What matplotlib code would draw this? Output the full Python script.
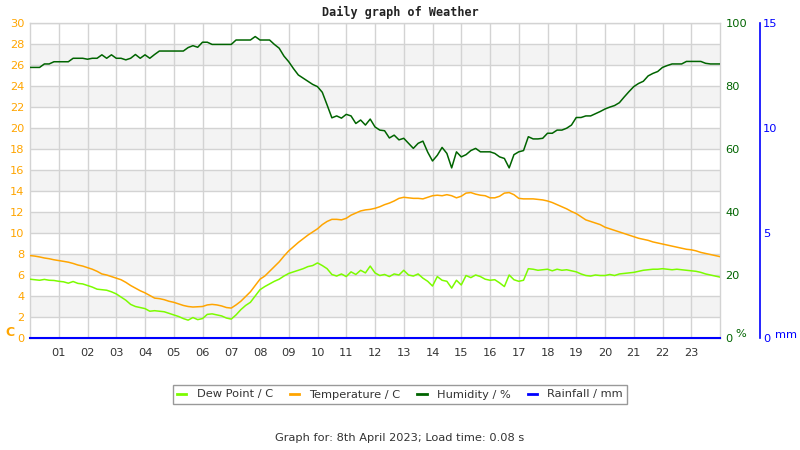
import matplotlib
matplotlib.use("Agg")
import matplotlib.pyplot as plt
from matplotlib.lines import Line2D
import numpy as np

# readings every 10 minutes, 00:00 .. 24:00
STEP_MINUTES = 10

TEMPERATURE = [
    7.85, 7.80, 7.72, 7.62, 7.55, 7.45, 7.38, 7.30, 7.22, 7.10, 6.95, 6.85,
    6.70, 6.55, 6.35, 6.10, 6.00, 5.85, 5.70, 5.55, 5.30, 5.00, 4.75, 4.50,
    4.30, 4.05, 3.80, 3.75, 3.65, 3.50, 3.40, 3.25, 3.10, 3.00, 2.95, 2.97,
    3.00, 3.15, 3.20, 3.15, 3.05, 2.90, 2.85, 3.15, 3.50, 3.95, 4.40, 5.00,
    5.60, 5.90, 6.35, 6.80, 7.25, 7.80, 8.30, 8.70, 9.10, 9.45, 9.80, 10.10,
    10.40, 10.80, 11.10, 11.30, 11.30, 11.25, 11.40, 11.70, 11.90, 12.10, 12.20, 12.25,
    12.35, 12.50, 12.70, 12.85, 13.05, 13.30, 13.40, 13.35, 13.30, 13.30, 13.25, 13.40,
    13.55, 13.60, 13.55, 13.65, 13.55, 13.35, 13.50, 13.80, 13.85, 13.70, 13.60, 13.55,
    13.35, 13.35, 13.50, 13.80, 13.85, 13.65, 13.30, 13.25, 13.25, 13.25, 13.20, 13.15,
    13.05, 12.90, 12.70, 12.50, 12.30, 12.05, 11.85, 11.55, 11.25, 11.10, 10.95, 10.80,
    10.55, 10.40, 10.25, 10.10, 9.95, 9.80, 9.65, 9.50, 9.40, 9.30, 9.15, 9.05,
    8.95, 8.85, 8.75, 8.65, 8.55, 8.45, 8.40, 8.30, 8.15, 8.05, 7.95, 7.85,
    7.75,
]

DEW_POINT = [
    5.60, 5.55, 5.50, 5.58, 5.50, 5.48, 5.40, 5.35, 5.22, 5.38, 5.20, 5.15,
    5.00, 4.85, 4.65, 4.60, 4.55, 4.40, 4.20, 3.90, 3.60, 3.20, 3.00, 2.90,
    2.80, 2.55, 2.60, 2.55, 2.50, 2.35, 2.20, 2.05, 1.85, 1.70, 1.95, 1.75,
    1.85, 2.25, 2.30, 2.20, 2.10, 1.90, 1.80, 2.20, 2.70, 3.10, 3.40, 4.00,
    4.60, 4.90, 5.15, 5.40, 5.60, 5.90, 6.15, 6.30, 6.45, 6.60, 6.80, 6.90,
    7.15, 6.90, 6.60, 6.05, 5.90, 6.10, 5.85, 6.30, 6.05, 6.45, 6.20, 6.85,
    6.20, 5.95, 6.05, 5.85, 6.10, 6.00, 6.45, 6.00, 5.90, 6.10, 5.70, 5.40,
    4.95, 5.85, 5.50, 5.40, 4.75, 5.50, 5.05, 5.95, 5.75, 6.00, 5.85, 5.60,
    5.50, 5.55, 5.25, 4.90, 6.00, 5.55, 5.40, 5.50, 6.60, 6.55, 6.45, 6.50,
    6.55, 6.40, 6.55, 6.45, 6.50, 6.40, 6.30, 6.10, 5.95, 5.90, 6.00, 5.95,
    5.95, 6.05, 5.95, 6.10, 6.15, 6.20, 6.25, 6.35, 6.45, 6.50, 6.55, 6.55,
    6.60, 6.55, 6.50, 6.55, 6.50, 6.45, 6.40, 6.35, 6.25, 6.10, 6.00, 5.90,
    5.80,
]

HUMIDITY = [
    85.9, 85.9, 85.9, 87.0, 87.0, 87.7, 87.7, 87.7, 87.7, 88.8, 88.8, 88.8,
    88.5, 88.8, 88.8, 89.9, 88.8, 89.9, 88.8, 88.8, 88.3, 88.8, 90.0, 88.8,
    89.9, 88.8, 90.0, 91.1, 91.1, 91.1, 91.1, 91.1, 91.1, 92.2, 92.8, 92.3,
    93.9, 93.9, 93.2, 93.2, 93.2, 93.2, 93.2, 94.6, 94.6, 94.6, 94.6, 95.7,
    94.6, 94.6, 94.6, 93.2, 92.0, 89.5, 87.7, 85.5, 83.5, 82.5, 81.5, 80.5,
    79.8, 78.0, 74.0, 69.9, 70.5, 69.8, 71.0, 70.5, 68.1, 69.2, 67.6, 69.5,
    67.0, 66.0, 65.8, 63.5, 64.4, 62.9, 63.4, 61.8, 60.2, 61.8, 62.5, 59.0,
    56.2, 58.0, 60.5, 58.6, 54.0, 59.1, 57.5, 58.2, 59.5, 60.2, 59.1, 59.1,
    59.1, 58.6, 57.5, 57.0, 54.0, 58.2, 59.1, 59.5, 63.9, 63.2, 63.2, 63.4,
    65.0, 65.0, 66.0, 66.0, 66.6, 67.6, 70.0, 70.0, 70.5, 70.5, 71.2, 71.9,
    72.7, 73.3, 73.8, 74.7, 76.5, 78.2, 79.8, 80.8, 81.5, 83.2, 84.0, 84.6,
    85.9, 86.5, 87.0, 87.0, 87.0, 87.8, 87.8, 87.8, 87.8, 87.2, 87.0, 87.0,
    87.0,
]

RAINFALL = [0.0] * len(TEMPERATURE)

HOUR_LABELS = ["%02d" % h for h in range(1, 24)]
TEMP_TICKS = list(range(0, 31, 2))
HUM_TICKS = [0, 20, 40, 60, 80, 100]
RAIN_TICKS = [0, 5, 10, 15]

C_DEW = "#7cfc00"
C_TEMP = "#ffa500"
C_HUM = "#006400"
C_RAIN = "#0000ff"
C_GRID = "#d3d3d3"
C_TEXT = "#333333"
FS = 8.2

hours = np.arange(len(TEMPERATURE)) * STEP_MINUTES / 60.0

fig = plt.figure(figsize=(8, 4.5), dpi=100)
ax = fig.add_axes([30 / 800, 1 - 338 / 450, 690 / 800, 315 / 450])
ax.set_xlim(0, 24)
ax.set_ylim(0, 30)

# alternating bands + grid
for lo in range(2, 30, 4):
    ax.axhspan(lo, lo + 2, color="#f3f3f3", zorder=0, lw=0)
for t in TEMP_TICKS[1:]:
    ax.axhline(t, color=C_GRID, lw=1, zorder=1)
for h in range(1, 24):
    ax.axvline(h, color=C_GRID, lw=1, zorder=1)

for s in ax.spines.values():
    s.set_color(C_GRID)
    s.set_linewidth(1)

ax.set_xticks(range(1, 24))
ax.set_xticklabels(HOUR_LABELS)
ax.tick_params(axis="x", length=0, pad=7, labelsize=FS, labelcolor=C_TEXT)
ax.set_yticks(TEMP_TICKS)
ax.tick_params(axis="y", length=0, pad=4, labelsize=FS, labelcolor=C_TEMP)

ax.plot(hours, DEW_POINT, color=C_DEW, lw=1.1, zorder=3)
ax.plot(hours, TEMPERATURE, color=C_TEMP, lw=1.1, zorder=3)

ax_h = ax.twinx()
ax_h.set_ylim(0, 100)
ax_h.set_yticks(HUM_TICKS)
ax_h.tick_params(axis="y", length=0, pad=4, labelsize=FS, labelcolor=C_HUM)
for s in ax_h.spines.values():
    s.set_visible(False)
ax_h.plot(hours, HUMIDITY, color=C_HUM, lw=1.1, zorder=3)

ax_r = ax.twinx()
ax_r.set_ylim(0, 15)
ax_r.set_yticks(RAIN_TICKS)
for name, s in ax_r.spines.items():
    s.set_visible(name == "right")
ax_r.spines["right"].set_position(("axes", 730 / 690))
ax_r.spines["right"].set_color(C_RAIN)
ax_r.spines["right"].set_linewidth(1.2)
ax_r.tick_params(axis="y", length=0, pad=2, labelsize=FS, labelcolor=C_RAIN)
ax_r.plot(hours, RAINFALL, color=C_RAIN, lw=1.5, zorder=4, clip_on=False)

fig.text(5 / 800, 1 - 333 / 450, "C", color=C_TEMP, fontsize=9, fontweight="bold",
         va="center", ha="left")
fig.text(735 / 800, 1 - 334 / 450, "%", color=C_HUM, fontsize=FS, va="center", ha="left")
fig.text(775 / 800, 1 - 335 / 450, "mm", color=C_RAIN, fontsize=FS, va="center", ha="left")

fig.text(0.5, 1 - 12 / 450, "Daily graph of Weather", family="DejaVu Sans Mono",
         fontweight="bold", fontsize=8.5, color="#222222", ha="center", va="center")

handles = [
    Line2D([], [], color=C_DEW, lw=2),
    Line2D([], [], color=C_TEMP, lw=2),
    Line2D([], [], color=C_HUM, lw=2),
    Line2D([], [], color=C_RAIN, lw=2),
]
labels = ["Dew Point / C", "Temperature / C", "Humidity / %", "Rainfall / mm"]
leg = fig.legend(handles, labels, loc="center", bbox_to_anchor=(0.5, 1 - 394.5 / 450),
                 ncol=4, fontsize=FS, frameon=True, fancybox=False,
                 handlelength=0.8, handletextpad=0.9, columnspacing=1.5,
                 borderpad=0.4, labelcolor=C_TEXT)
leg.get_frame().set_edgecolor("#808080")
leg.get_frame().set_linewidth(1)

fig.text(0.5, 1 - 438 / 450, "Graph for: 8th April 2023; Load time: 0.08 s",
         fontsize=FS, color=C_TEXT, ha="center", va="center")

fig.savefig("out.png", dpi=100)
